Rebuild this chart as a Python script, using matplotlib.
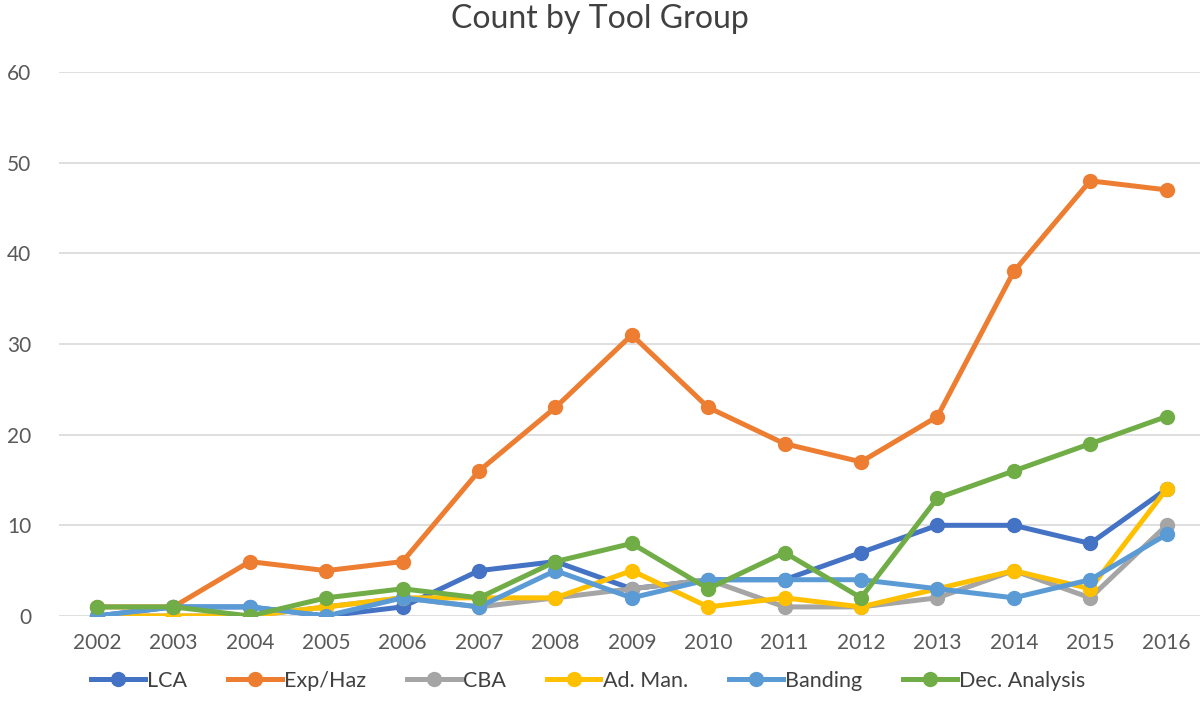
import matplotlib.pyplot as plt

plt.rcParams['font.family'] = ['Lato', 'DejaVu Sans']

years = [str(y) for y in range(2002, 2017)]
lca = [0, 1, 1, 0, 1, 5, 6, 3, 4, 4, 7, 10, 10, 8, 14]
exp_haz = [1, 1, 6, 5, 6, 16, 23, 31, 23, 19, 17, 22, 38, 48, 47]
cba = [0, 0, 0, 1, 2, 1, 2, 3, 4, 1, 1, 2, 5, 2, 10]
ad_man = [0, 0, 0, 1, 2, 2, 2, 5, 1, 2, 1, 3, 5, 3, 14]
banding = [0, 1, 1, 0, 2, 1, 5, 2, 4, 4, 4, 3, 2, 4, 9]
dec_analysis = [1, 1, 0, 2, 3, 2, 6, 8, 3, 7, 2, 13, 16, 19, 22]

series = [
    ('LCA', lca, '#4472C4'),
    ('Exp/Haz', exp_haz, '#ED7D31'),
    ('CBA', cba, '#A5A5A5'),
    ('Ad. Man.', ad_man, '#FFC000'),
    ('Banding', banding, '#5B9BD5'),
    ('Dec. Analysis', dec_analysis, '#70AD47'),
]

fig = plt.figure(figsize=(12, 7.16), dpi=100)
ax = fig.add_axes([0.049, 0.1397, 0.955, 0.7597])

x = range(len(years))
for name, vals, color in series:
    ax.plot(x, vals, color=color, lw=3.6, marker='o', markersize=10, label=name)

ax.set_xlim(-0.5, len(years) - 0.5)
ax.set_ylim(0, 60)
ax.set_yticks(range(0, 61, 10))
ax.set_xticks(list(x))
ax.set_xticklabels(years)
ax.grid(axis='y', color='#d9d9d9', lw=1.2)
ax.set_axisbelow(True)
for s in ax.spines.values():
    s.set_visible(False)
ax.tick_params(length=0, labelsize=15, colors='#595959', pad=12)
ax.tick_params(axis='y', pad=20)

fig.suptitle('Count by Tool Group', y=0.995, fontsize=23, color='#404040')
fig.legend(loc='lower center', ncol=6, bbox_to_anchor=(0.49, 0.008), frameon=False,
           fontsize=15.5, labelcolor='#404040', handlelength=2.5, columnspacing=1.9,
           handletextpad=0.1)

fig.savefig('out.png', dpi=100)
